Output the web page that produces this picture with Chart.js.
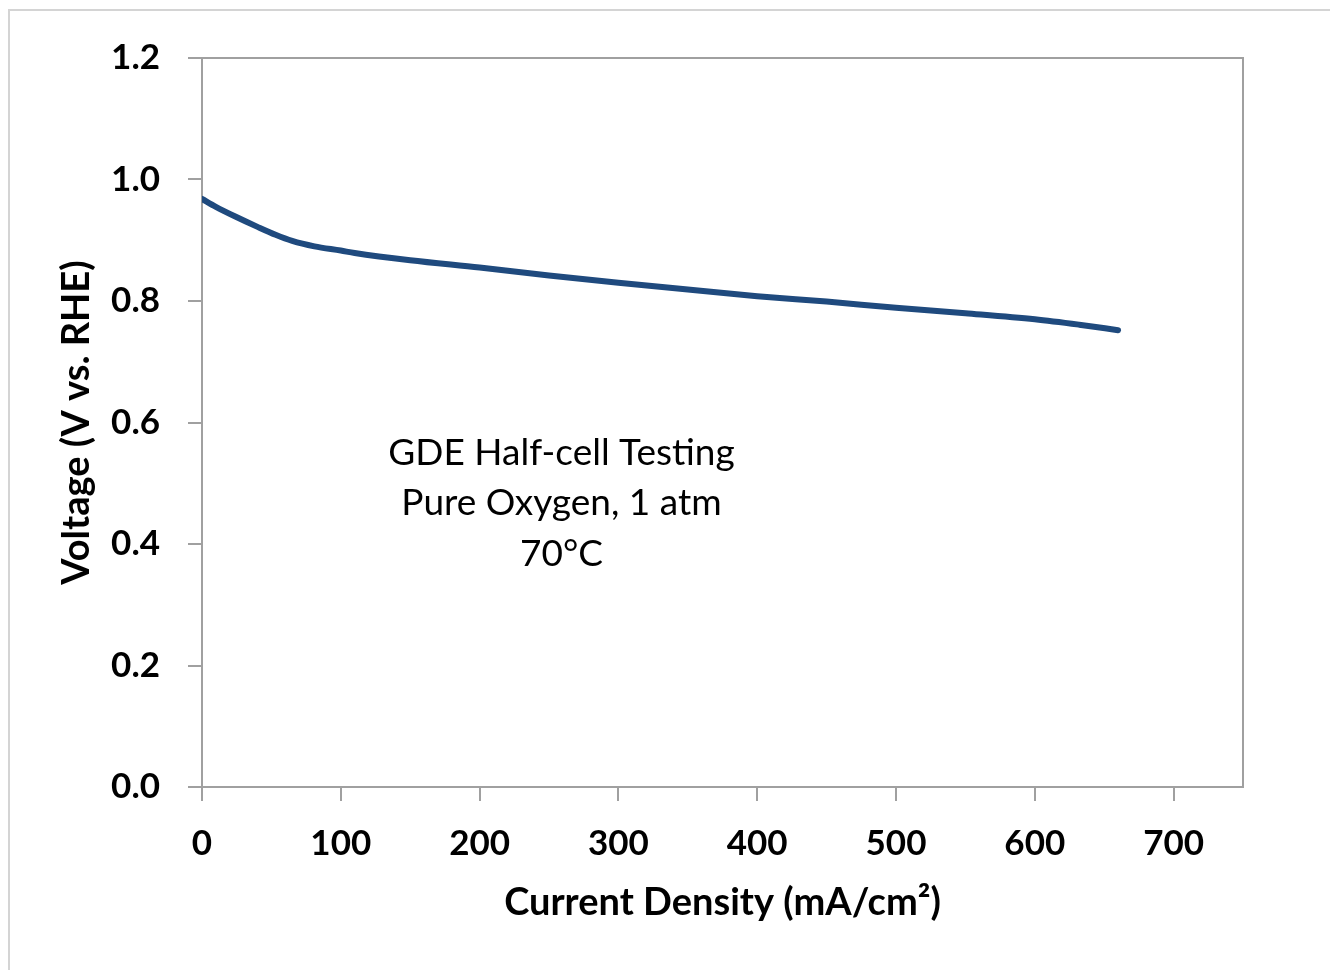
<!DOCTYPE html>
<html>
<head>
<meta charset="utf-8">
<script src="https://cdn.jsdelivr.net/npm/chart.js@4.4.0/dist/chart.umd.min.js"></script>
<style>
  html, body { margin: 0; padding: 0; background: #fff; }
  #wrap { position: relative; width: 1330px; height: 970px; overflow: hidden; }
  #frame { position: absolute; left: 8px; top: 9px; width: 1400px; height: 1000px;
           border-top: 2px solid #d4d4d4; border-left: 2px solid #d4d4d4; box-sizing: border-box; }
  #chart { position: absolute; left: 0; top: 0; }
</style>
</head>
<body>
<div id="wrap">
  <div id="frame"></div>
  <canvas id="chart" width="1330" height="970"></canvas>
</div>
<script>
// === DATA ===
const currentDensity = [0, 10, 24, 40, 53, 65, 81, 100, 110, 150, 200, 250, 300, 350, 400, 450, 500, 550, 600, 632, 660];
const voltage = [0.968, 0.955, 0.939, 0.922, 0.909, 0.899, 0.890, 0.883, 0.879, 0.867, 0.855, 0.842, 0.830, 0.819, 0.808, 0.799, 0.789, 0.780, 0.770, 0.761, 0.752];
const xTicks = [0, 100, 200, 300, 400, 500, 600, 700];
const yTicks = [0.0, 0.2, 0.4, 0.6, 0.8, 1.0, 1.2];
const noteLines = ['GDE Half-cell Testing', 'Pure Oxygen, 1 atm', '70°C'];
const notePos = { x: 259, y: 0.55 };

const axisGray = '#a0a0a0';
const fontFam = 'Lato, "Open Sans", sans-serif';

// box around the plot area (top and right edges)
const plotBox = {
    id: 'plotBox',
    beforeDatasetsDraw(chart) {
        const { ctx, chartArea: a } = chart;
        ctx.save();
        ctx.strokeStyle = axisGray;
        ctx.lineWidth = 2;
        ctx.strokeRect(a.left, a.top, a.right - a.left, a.bottom - a.top);
        ctx.restore();
    }
};

// the three-line note inside the plot
const note = {
    id: 'note',
    afterDatasetsDraw(chart) {
        const { ctx, scales } = chart;
        const cx = scales.x.getPixelForValue(notePos.x);
        const cy = scales.y.getPixelForValue(notePos.y);
        ctx.save();
        ctx.fillStyle = '#000';
        ctx.font = '37px ' + fontFam;
        ctx.textAlign = 'center';
        ctx.textBaseline = 'middle';
        noteLines.forEach((t, i) => ctx.fillText(t, cx, cy + i * 50.5));
        ctx.restore();
    }
};

new Chart(document.getElementById('chart'), {
    type: 'line',
    data: {
        datasets: [{
            data: currentDensity.map((x, i) => ({ x: x, y: voltage[i] })),
            borderColor: '#1f4a7e',
            borderWidth: 6,
            borderCapStyle: 'round',
            pointRadius: 0,
            tension: 0.4,
            cubicInterpolationMode: 'monotone',
            fill: false
        }]
    },
    options: {
        responsive: false,
        animation: false,
        layout: { padding: { top: 58, right: 87, left: 0, bottom: 0 } },
        plugins: { legend: { display: false }, tooltip: { enabled: false } },
        scales: {
            x: {
                type: 'linear',
                min: 0,
                max: 750,
                afterBuildTicks: (s) => { s.ticks = xTicks.map(v => ({ value: v })); },
                afterFit: (s) => { s.height = 183; },
                grid: { drawOnChartArea: false, drawTicks: true, tickLength: 14, color: axisGray, lineWidth: 2 },
                border: { color: axisGray, width: 2 },
                ticks: { color: '#000', padding: 22, font: { family: fontFam, size: 35, weight: 'bold' } },
                title: {
                    display: true,
                    text: 'Current Density (mA/cm²)',
                    color: '#000',
                    font: { family: fontFam, size: 38, weight: 'bold' },
                    padding: { top: 0, bottom: 44 }
                }
            },
            y: {
                min: 0,
                max: 1.2,
                afterBuildTicks: (s) => { s.ticks = yTicks.map(v => ({ value: v })); },
                afterFit: (s) => { s.width = 202; },
                grid: { drawOnChartArea: false, drawTicks: true, tickLength: 14, color: axisGray, lineWidth: 2 },
                border: { color: axisGray, width: 2 },
                ticks: {
                    color: '#000', padding: 28,
                    font: { family: fontFam, size: 35, weight: 'bold' },
                    callback: (v) => v.toFixed(1)
                },
                title: {
                    display: true,
                    text: 'Voltage (V vs. RHE)',
                    color: '#000',
                    font: { family: fontFam, size: 38, weight: 'bold' },
                    padding: { top: 54, bottom: 0 }
                }
            }
        }
    },
    plugins: [plotBox, note]
});
</script>
</body>
</html>
